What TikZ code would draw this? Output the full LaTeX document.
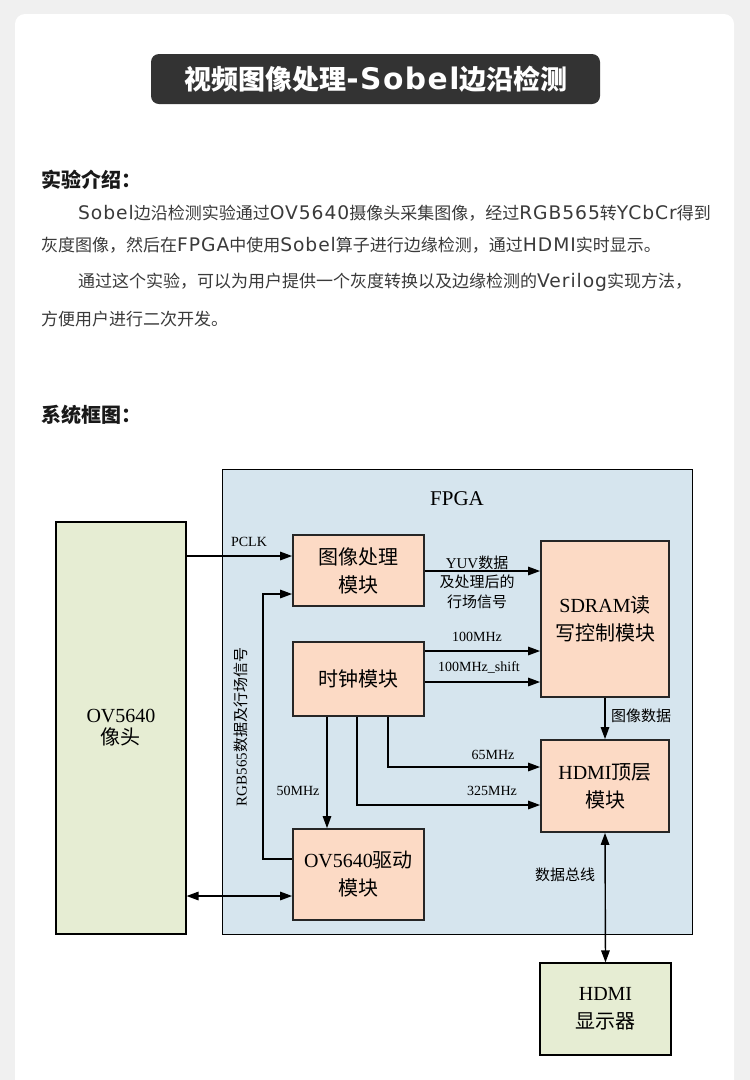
\documentclass[tikz,border=0pt]{standalone}
\usepackage{fontspec}
\setmainfont{Liberation Serif}
\newfontfamily\cjk{Noto Sans CJK SC}
\newfontfamily\lat[Scale=1.1,LetterSpace=5]{DejaVu Sans}
\usetikzlibrary{arrows.meta}
\definecolor{pagebg}{HTML}{F0F0F0}
\definecolor{titlebg}{HTML}{333333}
\definecolor{txt}{HTML}{3A3A3A}
\definecolor{fpgafill}{HTML}{D6E5EE}
\definecolor{blockfill}{HTML}{FCDAC5}
\definecolor{extfill}{HTML}{E6EDD3}
\newcommand{\fs}[2]{\fontsize{#1pt}{#2pt}\selectfont}
\tikzset{
  blk/.style={draw=black!85, line width=1.8pt, fill=blockfill, inner sep=0pt, align=center, font=\fs{20}{28}},
  ext/.style={draw=black, line width=1.1pt, fill=extfill, inner sep=0pt, align=center, font=\fs{20}{28}},
  arr/.style={line width=1.4pt, -{Triangle[length=12pt,width=8.5pt]}},
  arrtwo/.style={line width=1.4pt, {Triangle[length=12pt,width=8.5pt]}-{Triangle[length=12pt,width=8.5pt]}},
  lbl/.style={inner sep=0pt, font=\fs{14}{19}},
  clbl/.style={inner sep=0pt, font=\cjk\fs{15}{19.5}, align=center},
  para/.style={anchor=west, inner sep=0pt, text=txt, font=\cjk\fs{17}{20}},
  head/.style={anchor=west, inner sep=0pt, text=black!90, font=\cjk\bfseries\fs{20}{24}},
}
\begin{document}
\begin{tikzpicture}[x=1pt,y=-1pt]
\useasboundingbox (0,0) rectangle (750,1080);
\clip (0,0) rectangle (750,1080);
\fill[pagebg] (0,0) rectangle (750,1080);
\fill[white, rounded corners=10pt] (15,14) rectangle (734,1100);
% title
\fill[titlebg, rounded corners=8pt] (151,54) rectangle (600,104);
\node[inner sep=0pt, text=white, font=\cjk\bfseries\fs{27}{30}] (title) at (376,79) {视频图像处理{\lat\bfseries -Sobel}边沿检测};
% intro
\node[head] (h1) at (41,180) {实验介绍：};
\node[para] (p1) at (78,213) {{\lat Sobel}边沿检测实验通过{\lat OV5640}摄像头采集图像，经过{\lat RGB565}转{\lat YCbCr}得到};
\node[para] (p2) at (41,245) {灰度图像，然后在{\lat FPGA}中使用{\lat Sobel}算子进行边缘检测，通过{\lat HDMI}实时显示。};
\node[para] (p3) at (78,282) {通过这个实验，可以为用户提供一个灰度转换以及边缘检测的{\lat Verilog}实现方法，};
\node[para] (p4) at (41,319) {方便用户进行二次开发。};
\node[head] (h2) at (41,415) {系统框图：};
% diagram boxes
\node[draw=black, line width=0.9pt, fill=fpgafill, minimum width=470pt, minimum height=465pt, inner sep=0pt] (fpga) at (457,701.5) {};
\node[font=\fs{21}{24}, inner sep=0pt] (fpgalbl) at (457,499) {FPGA};
\node[ext, minimum width=130pt, minimum height=412pt, font=\fs{20}{22}] (cam) at (121,728) {OV5640\\{\cjk 像头}};
\node[ext, minimum width=131pt, minimum height=92pt] (disp) at (605.5,1009) {HDMI\\{\cjk 显示器}};
\node[blk, minimum width=131pt, minimum height=71pt] (img) at (358.5,570.5) {{\cjk 图像处理}\\{\cjk 模块}};
\node[blk, minimum width=131pt, minimum height=74pt] (clk) at (358.5,679) {{\cjk 时钟模块}};
\node[blk, minimum width=131pt, minimum height=91pt] (drv) at (358.5,874.5) {OV5640{\cjk 驱动}\\{\cjk 模块}};
\node[blk, minimum width=128pt, minimum height=156pt] (sdram) at (605,619) {SDRAM{\cjk 读}\\{\cjk 写控制模块}};
\node[blk, minimum width=128pt, minimum height=92pt] (hdmi) at (605,786) {HDMI{\cjk 顶层}\\{\cjk 模块}};
% helper coordinates
\coordinate (pclkY) at (0,556);
\coordinate (rgbA) at (263,859);
\coordinate (rgbB) at (263,594);
\coordinate (busY) at (0,896);
\coordinate (yuvY) at (0,571);
\coordinate (m100) at (0,651);
\coordinate (m100s) at (0,682);
\coordinate (c50) at (327,0);
\coordinate (c325) at (357,805);
\coordinate (c65) at (388,767);
% connectors
\draw[arr] (cam.east |- pclkY) -- (img.west |- pclkY);
\draw[arr] (drv.west |- rgbA) -- (rgbA) -- (rgbB) -- (img.west |- rgbB);
\draw[arrtwo] (cam.east |- busY) -- (drv.west |- busY);
\draw[arr] (img.east |- yuvY) -- (sdram.west |- yuvY);
\draw[arr] (clk.east |- m100) -- (sdram.west |- m100);
\draw[arr] (clk.east |- m100s) -- (sdram.west |- m100s);
\draw[arr] (clk.south -| c50) -- (drv.north -| c50);
\draw[arr] (clk.south -| c325) -- (c325) -- (hdmi.west |- c325);
\draw[arr] (clk.south -| c65) -- (c65) -- (hdmi.west |- c65);
\draw[arr] (sdram.south) -- (hdmi.north);
\draw[arrtwo] (hdmi.south) -- (disp.north);
% labels
\node[lbl] (lpclk) at (249,542) {PCLK};
\node[clbl] (lyuv) at (477,582) {{\fontspec{Liberation Serif}YUV}数据\\及处理后的\\行场信号};
\node[lbl] (l100) at (477,637) {100MHz};
\node[lbl] (l100s) at (479,667) {100MHz\_shift};
\node[lbl] (l65) at (493,755) {65MHz};
\node[lbl] (l325) at (492,791) {325MHz};
\node[lbl] (l50) at (298,791) {50MHz};
\node[clbl] (limg) at (641,716) {图像数据};
\node[clbl] (lbus) at (565,875) {数据总线};
\node[inner sep=0pt, rotate=90, font=\fs{15}{18}] (lrgb) at (241,727) {RGB565{\cjk 数据及行场信号}};
\end{tikzpicture}
\end{document}
